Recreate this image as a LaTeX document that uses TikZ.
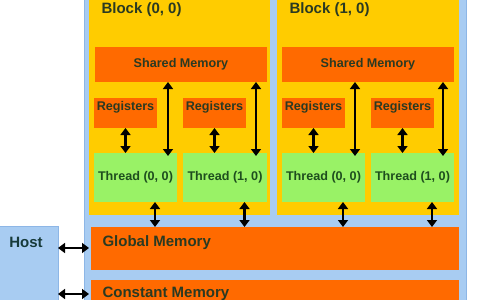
\documentclass[tikz,border=0pt]{standalone}
\usepackage{fontspec}
\setmainfont{Liberation Sans}
\usetikzlibrary{arrows.meta,calc}
\definecolor{gridblue}{HTML}{A8CCF2}
\definecolor{gridedge}{HTML}{8DB6E6}
\definecolor{blockyel}{HTML}{FFCC00}
\definecolor{memorg}{HTML}{FF6A00}
\definecolor{thrgreen}{HTML}{99F266}
\definecolor{txtdark}{HTML}{2A3A22}
\definecolor{txtgreen}{HTML}{1E4E1E}
\definecolor{txthost}{HTML}{173A3A}
\tikzset{
  box/.style={draw=none, inner sep=0pt, outer sep=0pt},
  blockbox/.style={box, fill=blockyel},
  membox/.style={box, fill=memorg},
  thrbox/.style={box, fill=thrgreen},
  bigtxt/.style={font=\fontsize{15}{17}\selectfont\bfseries},
  smalltxt/.style={font=\fontsize{12.6}{14}\selectfont\bfseries},
  dbl/.style={line width=2.1pt, {Triangle[width=10pt,length=7pt]}-{Triangle[width=10pt,length=7pt]}},
}
\begin{document}
\begin{tikzpicture}[x=1pt,y=-1pt]
\useasboundingbox (0,0) rectangle (480,300);
\clip (0,0) rectangle (480,300);
% grid background
\node[box, fill=gridblue, draw=gridedge, line width=1pt, minimum width=382pt, minimum height=320pt, anchor=north west] (grid) at (84,-10) {};
% host
\node[box, fill=gridblue, draw=gridedge, line width=1pt, minimum width=70pt, minimum height=90pt, anchor=north west] (host) at (-12,226) {};
\node[bigtxt, text=txthost] (hostlbl) at (26,242) {Host};
% blocks
\node[blockbox, minimum width=181pt, minimum height=225pt, anchor=north west] (blk0) at (89,-10) {};
\node[blockbox, minimum width=182pt, minimum height=225pt, anchor=north west] (blk1) at (277,-10) {};
\node[bigtxt, text=txtdark, anchor=west] (blk0lbl) at (98,10) {Block (0, 0)};
\node[bigtxt, text=txtdark, anchor=west] (blk1lbl) at (286,10) {Block (1, 0)};
% shared memory
\node[membox, smalltxt, text=txtdark, minimum width=172pt, minimum height=35pt, anchor=north west] (sh0) at (95,47) {Shared Memory};
\node[membox, smalltxt, text=txtdark, minimum width=172pt, minimum height=35pt, anchor=north west] (sh1) at (282,47) {Shared Memory};
% registers
\node[membox, minimum width=63pt, minimum height=30pt, anchor=north west] (r00) at (94,98) {};
\node[membox, minimum width=63pt, minimum height=30pt, anchor=north west] (r01) at (183,98) {};
\node[membox, minimum width=63pt, minimum height=30pt, anchor=north west] (r10) at (282,98) {};
\node[membox, minimum width=63pt, minimum height=30pt, anchor=north west] (r11) at (371,98) {};
\foreach \r in {r00, r01, r10, r11}{
  \node[smalltxt, text=txtdark] (\r lbl) at ([yshift=5.5pt]\r.center) {Registers};
}
% threads
\node[thrbox, smalltxt, text=txtgreen, minimum width=83pt, minimum height=49pt, anchor=north west] (t00) at (94,153) {Thread (0, 0)};
\node[thrbox, smalltxt, text=txtgreen, minimum width=84pt, minimum height=49pt, anchor=north west] (t01) at (183,153) {Thread (1, 0)};
\node[thrbox, smalltxt, text=txtgreen, minimum width=83pt, minimum height=49pt, anchor=north west] (t10) at (282,153) {Thread (0, 0)};
\node[thrbox, smalltxt, text=txtgreen, minimum width=83pt, minimum height=49pt, anchor=north west] (t11) at (371,153) {Thread (1, 0)};
% global and constant memory
\node[membox, minimum width=368pt, minimum height=43pt, anchor=north west] (glob) at (91,227) {};
\node[bigtxt, text=txtdark, anchor=west] (globlbl) at (99,243) {Global Memory};
\node[membox, minimum width=368pt, minimum height=40pt, anchor=north west] (const) at (91,280) {};
\node[bigtxt, text=txtdark, anchor=west] (constlbl) at (99,294) {Constant Memory};
% register <-> thread
\foreach \r/\t in {r00/t00, r01/t01, r10/t10, r11/t11}{
  \draw[dbl] (\r.south) -- (\r.south |- \t.north);
}
% shared <-> thread
\coordinate (l0) at (168,0);
\coordinate (l1) at (256,0);
\coordinate (l2) at (355,0);
\coordinate (l3) at (443,0);
\draw[dbl] (sh0.south -| l0) -- ([yshift=-3pt]t00.north -| l0);
\draw[dbl] (sh0.south -| l1) -- ([yshift=-3pt]t01.north -| l1);
\draw[dbl] (sh1.south -| l2) -- ([yshift=-3pt]t10.north -| l2);
\draw[dbl] (sh1.south -| l3) -- ([yshift=-3pt]t11.north -| l3);
% thread <-> global
\foreach \t in {t00, t01, t10, t11}{
  \draw[dbl] ([xshift=19.5pt]\t.south) -- ([xshift=19.5pt]\t.south |- glob.north);
}
% host <-> memories
\draw[dbl] (host.east |- 0,248) -- ([xshift=-2pt]glob.west |- 0,248);
\draw[dbl] (host.east |- 0,294) -- ([xshift=-2pt]const.west |- 0,294);
\end{tikzpicture}
\end{document}
